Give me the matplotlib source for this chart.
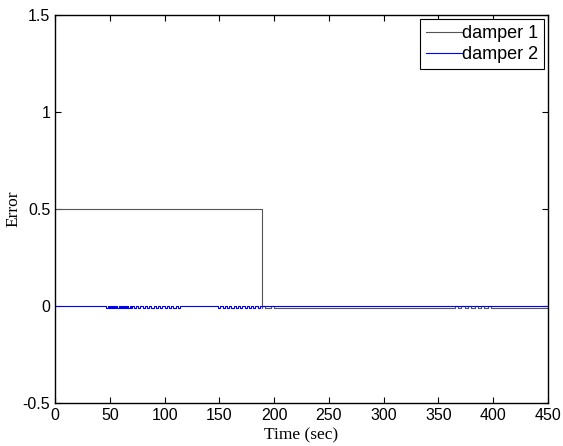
import numpy as np
import matplotlib
matplotlib.use("Agg")
import matplotlib.pyplot as plt

# --- data ---
t_end = 450
d1_level = 0.5          # damper 1 error before switch
d1_switch = 189         # time where damper 1 drops
d1_base = -0.008        # damper 1 baseline after switch
d1_pulse_starts = [189, 197, 365, 371, 377, 383, 389, 395]
d1_pulse_width = 3.0
d1_pulse_height = 0.0

d2_base = 0.0
d2_dip = -0.008
d2_pulse_starts = ([47, 49, 51, 53, 55, 57, 59, 61, 63, 65, 67, 69]
                   + [72, 76, 80, 84, 88, 92, 96, 100, 104, 108, 112]
                   + [149, 153, 157, 161, 165, 169, 173, 177, 181, 185])
d2_pulse_widths = [1.0] * 12 + [2.0] * 11 + [2.0] * 10

xticks = [0, 50, 100, 150, 200, 250, 300, 350, 400, 450]
yticks = [-0.5, 0, 0.5, 1, 1.5]


def step_series(t0, t1, base, starts, widths, level):
    t = [t0]
    y = [base]
    for s, w in zip(starts, widths):
        t += [s, s, s + w, s + w]
        y += [base, level, level, base]
    t.append(t1)
    y.append(base)
    return np.array(t, float), np.array(y, float)


# damper 1
t1a = [0, d1_switch, d1_switch]
y1a = [d1_level, d1_level, d1_base]
tb, yb = step_series(d1_switch, t_end, d1_base, d1_pulse_starts,
                     [d1_pulse_width] * len(d1_pulse_starts), d1_pulse_height)
t1 = np.concatenate([t1a, tb])
y1 = np.concatenate([y1a, yb])

# damper 2
t2, y2 = step_series(0, t_end, d2_base, d2_pulse_starts, d2_pulse_widths, d2_dip)

fig = plt.figure(figsize=(5.63, 4.46), dpi=100)
ax = fig.add_axes([0.0977, 0.0964, 0.8757, 0.87])
ax.plot(t1, y1, color="#555555", lw=0.8, label="damper 1")
ax.plot(t2, y2, color="#0000ff", lw=0.8, label="damper 2")

ax.set_xlim(0, 450)
ax.set_ylim(-0.5, 1.5)
ax.set_xticks(xticks)
ax.set_yticks(yticks)
ax.set_yticklabels(["-0.5", "0", "0.5", "1", "1.5"])
ax.tick_params(direction="in", top=True, right=True, length=4, width=0.8,
               labelsize=11.5, pad=3.5)
for lab in ax.get_xticklabels() + ax.get_yticklabels():
    lab.set_fontfamily("Liberation Sans")
for sp in ax.spines.values():
    sp.set_linewidth(1.0)

ax.set_xlabel("Time (sec)", fontfamily="Liberation Serif", fontsize=12.5, labelpad=3)
ax.set_ylabel("Error", fontfamily="Liberation Serif", fontsize=12.5, labelpad=1)

leg = ax.legend(loc="upper right", prop={"family": "Liberation Sans", "size": 13},
                fancybox=False, edgecolor="black", framealpha=1,
                borderaxespad=0.25, handlelength=2.0, handletextpad=0.0,
                borderpad=0.3, labelspacing=0.25)
leg.get_frame().set_linewidth(0.8)

fig.savefig("out.png", dpi=100)
